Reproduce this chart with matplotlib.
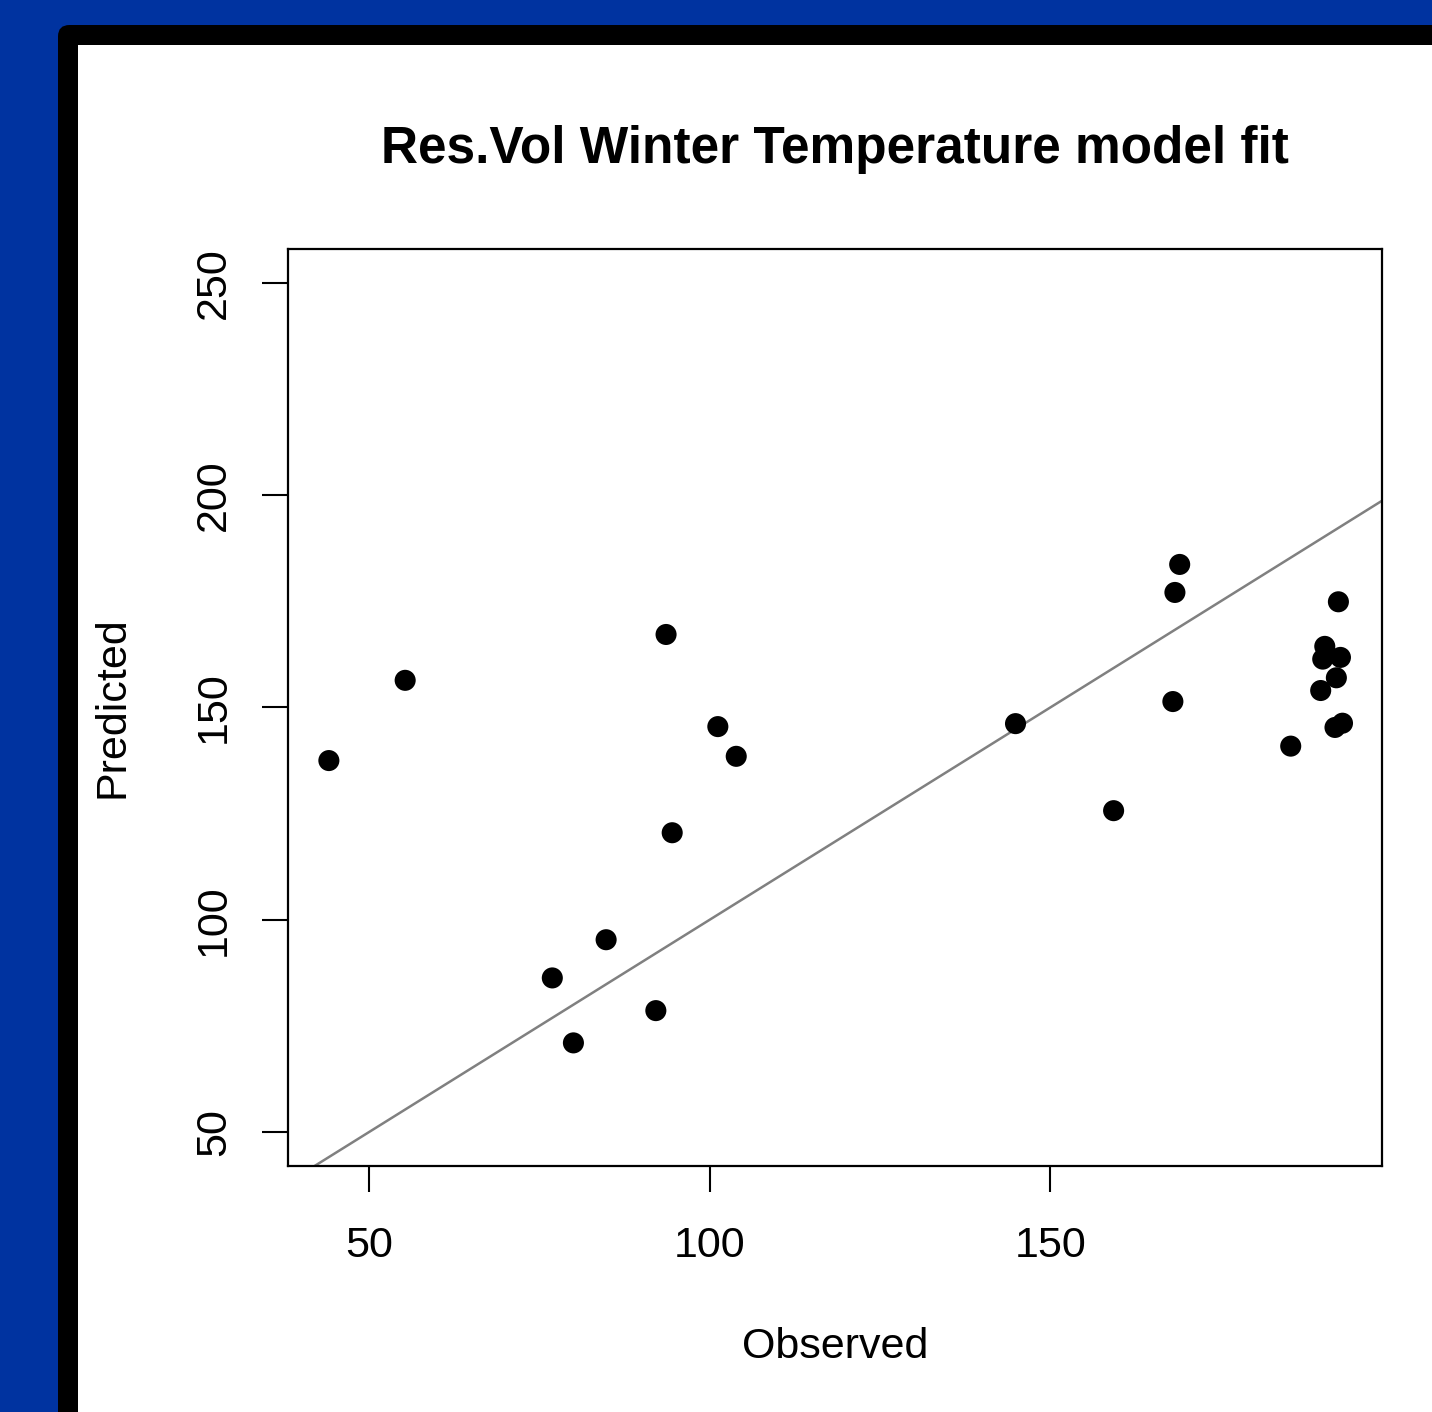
import matplotlib
matplotlib.use("Agg")
import matplotlib.pyplot as plt
from matplotlib.patches import FancyBboxPatch, Rectangle

plt.rcParams['font.family'] = ['Liberation Sans', 'DejaVu Sans']

observed = [44.1, 55.3, 76.9, 80.0, 84.8, 92.1, 93.6, 94.5, 101.2, 103.9,
            144.9, 159.3, 168.0, 168.3, 169.0, 185.3, 189.7, 190.3, 190.0,
            192.3, 192.6, 192.0, 191.8, 192.9]
predicted = [137.5, 156.4, 86.3, 71.0, 95.3, 78.6, 167.2, 120.5, 145.5, 138.5,
             146.2, 125.7, 151.4, 177.1, 183.7, 140.9, 154.0, 164.4, 161.4,
             174.9, 161.8, 157.0, 145.3, 146.3]
xticks = [50, 100, 150]
yticks = [50, 100, 150, 200, 250]

W, H = 1432, 1412
fig = plt.figure(figsize=(W / 100, H / 100), dpi=100)
fig.patch.set_facecolor('#0033A0')
fig.patches.append(FancyBboxPatch((58 / W, -0.1), 1.2, (H - 25) / H + 0.1,
                                  boxstyle="round,pad=0,rounding_size=0.008",
                                  transform=fig.transFigure, facecolor='black',
                                  edgecolor='none', zorder=-10))
fig.patches.append(Rectangle((78 / W, 0), 1.0, (H - 45) / H,
                             transform=fig.transFigure, facecolor='white',
                             edgecolor='none', zorder=-9))

ax = fig.add_axes([288 / W, 1 - 1166 / H, (1382 - 288) / W, (1166 - 249) / H])
ax.set_zorder(5)
ax.set_facecolor('white')
ax.set_xlim(38.1, 198.7)
ax.set_ylim(42.0, 258.0)

lims = [30, 260]
ax.plot(lims, lims, color='#808080', lw=1.8, zorder=2)
ax.scatter(observed, predicted, s=230, color='black', edgecolors='none', zorder=3)

ax.set_xticks(xticks)
ax.set_yticks(yticks)
ax.set_xticklabels([str(t) for t in xticks], fontsize=31)
ax.set_yticklabels([str(t) for t in yticks], fontsize=31, rotation=90, va='center')
ax.tick_params(axis='both', length=19, width=1.5, color='black')
ax.tick_params(axis='x', pad=24)
ax.tick_params(axis='y', pad=20)
for s in ax.spines.values():
    s.set_linewidth(1.6)
    s.set_color('black')

ax.set_xlabel('Observed', fontsize=31, labelpad=44)
ax.set_ylabel('Predicted', fontsize=31, labelpad=44)
fig.text(835 / W, 1 - 150 / H, 'Res.Vol Winter Temperature model fit',
         fontsize=37, fontweight='bold', ha='center', va='center', zorder=5)

fig.savefig('out.png', dpi=100, facecolor=fig.get_facecolor())
